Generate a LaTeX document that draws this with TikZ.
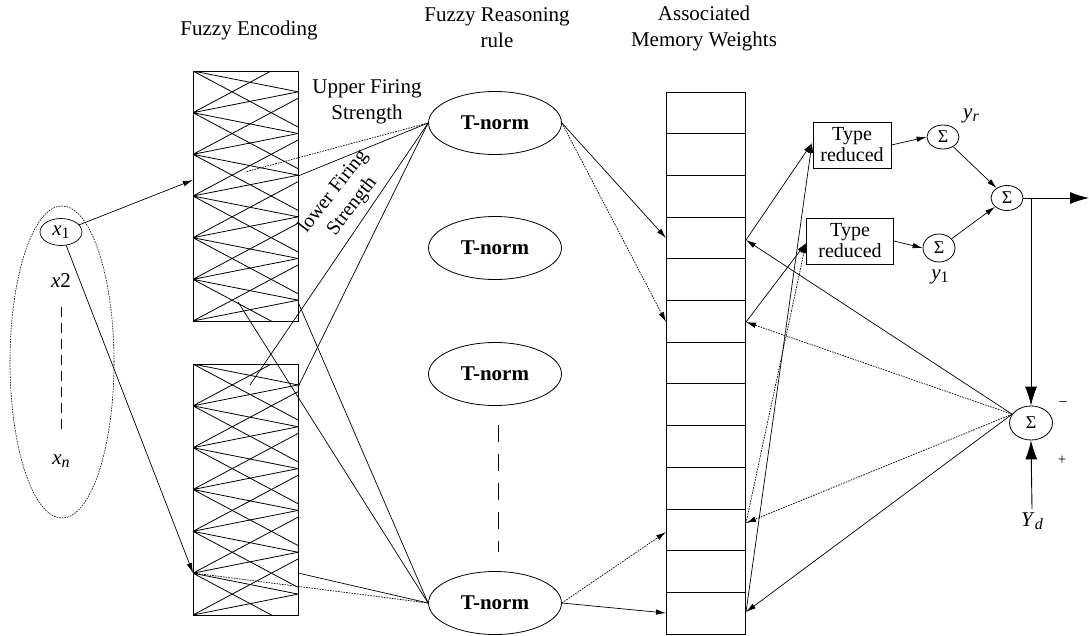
\documentclass[tikz,border=0pt]{standalone}
\usepackage{fontspec}
\setmainfont{Liberation Serif}
\usetikzlibrary{arrows.meta,shapes.geometric}
\newcommand\mysub[1]{\raisebox{-0.35ex}{\fontsize{16}{16}\selectfont #1}}
\begin{document}
\begin{tikzpicture}[x=1pt,y=-1pt,
  font=\fontsize{21}{26}\selectfont,
  conn/.style={line width=0.7pt},
  arr/.style={conn,-{Latex[length=10pt,width=5.5pt]}},
  bigarr/.style={line width=0.9pt,-{Latex[length=19pt,width=12pt]}},
  dotl/.style={dash pattern=on 1.6pt off 1.1pt},
  zig/.style={line width=0.8pt},
  encbox/.style={draw,line width=1pt,minimum width=105pt,minimum height=250pt,inner sep=0pt},
  tnorm/.style={draw,ellipse,line width=0.8pt,minimum width=133pt,minimum height=63pt,inner sep=0pt,font=\fontsize{21}{25}\selectfont\bfseries},
  sig/.style={draw,ellipse,line width=0.8pt,minimum width=32pt,minimum height=26pt,inner sep=0pt,font=\fontsize{18}{18}\selectfont},
  trbox/.style={draw,line width=0.8pt,minimum height=46pt,align=center,inner sep=1pt,font=\fontsize{20}{21}\selectfont},
  lbl/.style={align=center}
]
\useasboundingbox (0,0) rectangle (1089,635);

% ---------- headings ----------
\node[lbl] (hEnc) at (249,30) {Fuzzy Encoding};
\node[lbl] (hRule) at (497,28) {Fuzzy Reasoning\\rule};
\node[lbl] (hMem) at (704,28) {Associated\\Memory Weights};

% ---------- inputs ----------
\node[draw,ellipse,dotl,line width=0.6pt,minimum width=104pt,minimum height=312pt,inner sep=0pt] (inp) at (62,362) {};
\node[draw,ellipse,line width=0.7pt,minimum width=42pt,minimum height=27pt,inner sep=0pt] (x1) at (61,232) {\textit{x}\mysub{1}};
\node (x2) at (61,281) {\textit{x}2};
\node (xn) at (61,461) {\textit{x}\mysub{\textit{n}}};
\draw[line width=0.8pt,dash pattern=on 10pt off 6pt] (61,307) -- (61,432);

% ---------- encoding boxes ----------
\begin{scope}
\clip (193,71) rectangle (298,321);
\foreach \i in {0,...,6}{
  \pgfmathsetmacro\yv{71+\i*250/6}
  \draw[zig] (193,\yv) -- (298,\yv+20.8) (193,\yv) -- (298,\yv-20.8)
             (193,\yv) -- (298,\yv+56) (193,\yv) -- (298,\yv-56);
}
\end{scope}
\node[encbox] (enc1) at (245.5,196) {};
\begin{scope}
\clip (193,364) rectangle (298,615);
\foreach \i in {0,...,6}{
  \pgfmathsetmacro\yv{364+\i*251/6}
  \draw[zig] (193,\yv) -- (298,\yv+20.9) (193,\yv) -- (298,\yv-20.9)
             (193,\yv) -- (298,\yv+56) (193,\yv) -- (298,\yv-56);
}
\end{scope}
\node[encbox,minimum height=251pt] (enc2) at (245.5,489.5) {};

\node[lbl] (ufs) at (367,102) {Upper Firing\\Strength};
\node[lbl,rotate=52,font=\fontsize{20}{24}\selectfont] (lfs) at (343,199) {lower Firing\\Strength};

% ---------- T-norm nodes ----------
\node[tnorm] (t1) at (495,123) {T-norm};
\node[tnorm] (t2) at (495,248) {T-norm};
\node[tnorm] (t3) at (495,374) {T-norm};
\node[tnorm] (t4) at (495,603) {T-norm};
\draw[line width=0.8pt,dash pattern=on 17pt off 12pt] (498,425) -- (498,552);

% ---------- memory ----------
\node[draw,line width=1pt,minimum width=79pt,minimum height=542pt,inner sep=0pt] (mem) at (705.5,363) {};
\foreach \k in {1,...,12}{
  \draw[line width=0.9pt] (666,92+\k*41.7) -- (745,92+\k*41.7);
}

% ---------- right side ----------
\node[trbox,minimum width=78pt] (tr1) at (852,145) {Type\\reduced};
\node[trbox,minimum width=87pt] (tr2) at (850,241) {Type\\reduced};
\node[sig,minimum height=24pt] (syr) at (943,137) {Σ};
\node[sig,minimum height=28pt] (sy1) at (939,248) {Σ};
\node[sig,minimum height=25pt] (sc) at (1007,198) {Σ};
\node[sig,minimum width=43pt,minimum height=34pt] (es) at (1031,423) {Σ};
\node (yr) at (971,116) {\textit{y}\mysub{\textit{r}}};
\node (y1) at (940,277) {\textit{y}\mysub{1}};
\node (yd) at (1032,521) {\textit{Y}\mysub{\textit{d}}};
\node[font=\fontsize{15}{15}\selectfont] (minus) at (1063,404) {–};
\node[font=\fontsize{15}{15}\selectfont] (plus) at (1062,460) {+};

% ---------- coordinates ----------
\coordinate (e1in) at (193,180);
\coordinate (e2in) at (193,573);
\coordinate (u1d) at (245,172);
\coordinate (u1s) at (298,176);
\coordinate (l1a) at (250,385);
\coordinate (l1b) at (298,387);
\coordinate (l4s) at (298,573);
\coordinate (u4a) at (238,302);
\coordinate (u4b) at (298,302);
\coordinate (mL1) at (666,238);
\coordinate (mL2) at (666,322);
\coordinate (mL3) at (666,532);
\coordinate (mL4) at (666,613);
\coordinate (mR1) at (746,240);
\coordinate (mR2) at (746,322);
\coordinate (mR3) at (746,523);
\coordinate (mR4) at (746,612);
\coordinate (tr1in) at (812,143);
\coordinate (tr2in) at (806,243);
\coordinate (out) at (1089,198);
\coordinate (jn) at (es.north |- sc.east);

% ---------- connectors ----------
\draw[arr] (x1) -- (e1in);
\draw[arr] (x1) -- (e2in);

\draw[conn,dotl] (t1.west) -- (u1d);
\draw[conn] (t1.west) -- (u1s);
\draw[conn] (t1.west) -- (l1a);
\draw[conn] (t1.west) -- (l1b);
\draw[conn,dotl] (t4.west) -- (e2in);
\draw[conn] (t4.west) -- (l4s);
\draw[conn] (t4.west) -- (u4a);
\draw[conn] (t4.west) -- (u4b);

\draw[arr] (t1.east) -- (mL1);
\draw[arr,dotl] (t1.east) -- (mL2);
\draw[arr,dotl] (t4.east) -- (mL3);
\draw[arr] (t4.east) -- (mL4);

\draw[arr] (mR1) -- (tr1in);
\draw[arr] (mR4) -- (tr1in);
\draw[arr] (mR2) -- (tr2in);
\draw[arr,dotl] (mR3) -- (tr2in);

\draw[arr] (es.155) -- (mR1);
\draw[arr,dotl] (es.155) -- (mR2);
\draw[arr,dotl] (es.155) -- (mR3);
\draw[arr] (es.155) -- (mR4);

\draw[arr] (tr1.east) -- (syr.west);
\draw[arr] (tr2.east) -- (sy1.west);
\draw[arr] (syr) -- (sc);
\draw[arr] (sy1) -- (sc);
\draw[bigarr] (sc.east) -- (out);
\draw[bigarr] (jn) -- (es.north);
\draw[bigarr] (yd.north) -- (es.south);
\end{tikzpicture}
\end{document}
